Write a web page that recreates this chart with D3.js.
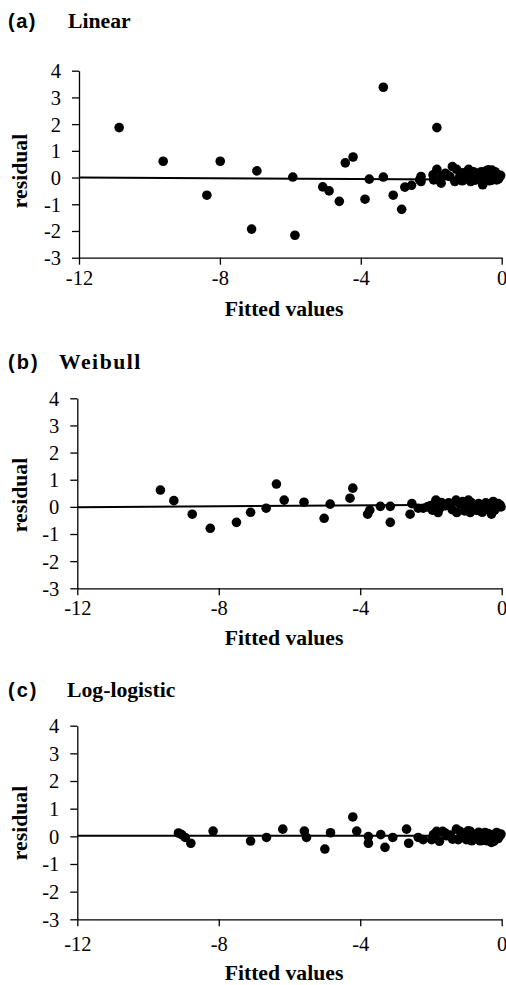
<!DOCTYPE html>
<html>
<head>
<meta charset="utf-8">
<script src="https://cdn.jsdelivr.net/npm/d3@7"></script>
<style>
  body { margin: 0; background: #fff; }
  svg { display: block; }
</style>
</head>
<body>
<div id="chart"></div>
<script>
// Data
var xTicks = [-12, -8, -4, 0]
var yTicks = [-3, -2, -1, 0, 1, 2, 3, 4]

var linearX = [-10.86, -9.61, -8.37, -7.99, -7.10, -6.95, -5.93, -5.87, -5.08, -4.90, -4.61, -4.44, -4.22, -3.88, -3.76, -3.36, -3.36, -3.08, -2.84, -2.75, -2.56, -2.33, -2.29, -2.29, -1.95, -1.93, -1.84, -1.84, -1.72, -1.60, -1.40, -1.28, -1.33, -1.19, -0.94, -0.89, -0.88, -0.71, -0.54, -0.47, -0.38, -0.31, -0.26, -0.19, -0.12, -0.05, -0.62, -1.05, -1.47, -0.42, -0.14,
  -1.10, -1.00, -0.80, -0.75, -0.66, -0.58, -0.50, -0.44, -0.35, -0.28, -0.22, -0.16, -0.09, -0.03, -1.55, -1.70, -1.12]
var linearY = [1.87, 0.61, -0.66, 0.61, -1.93, 0.25, 0.02, -2.16, -0.35, -0.50, -0.89, 0.55, 0.77, -0.81, -0.06, 3.38, 0.02, -0.66, -1.19, -0.36, -0.29, -0.09, 0.04, -0.15, 0.10, -0.09, 1.87, 0.31, -0.21, 0.16, 0.41, 0.31, -0.15, 0.04, 0.31, 0.10, -0.15, 0.04, -0.27, 0.16, 0.29, 0.10, -0.09, 0.22, 0.10, 0.04, 0.16, 0.04, 0.04, -0.09, -0.09,
  0.18, -0.05, 0.22, -0.10, 0.05, 0.22, -0.02, 0.25, -0.12, 0.28, -0.02, 0.15, -0.05, 0.08, 0.10, 0.05, -0.12]

var weibullX = [-9.65, -9.27, -8.75, -8.24, -7.50, -7.10, -6.66, -6.37, -6.15, -5.59, -5.02, -4.85, -4.29, -4.21, -3.79, -3.73, -3.43, -3.15, -3.15, -2.59, -2.54, -2.36, -2.22, -2.03, -1.96, -1.86, -1.80, -1.70, -1.60, -1.29, -1.27, -1.18, -0.94, -0.89, -0.80, -0.61, -0.52, -0.38, -0.29, -0.24, -0.14, -0.05, -1.03, -0.70,
  -2.10, -1.50, -1.40, -1.10, -1.05, -0.85, -0.72, -0.65, -0.55, -0.45, -0.35, -0.20, -0.10, -0.02, -1.90, -1.75]
var weibullY = [0.62, 0.23, -0.27, -0.79, -0.57, -0.20, -0.05, 0.84, 0.25, 0.17, -0.42, 0.10, 0.32, 0.69, -0.27, -0.12, 0.02, 0.02, -0.57, -0.27, 0.12, -0.05, -0.05, 0.04, -0.12, 0.25, -0.21, 0.16, 0.04, 0.25, -0.21, 0.10, 0.25, -0.21, 0.04, -0.15, 0.04, -0.09, -0.27, 0.20, -0.02, 0.07, -0.02, -0.02,
  0.00, 0.15, -0.10, 0.20, -0.15, 0.15, -0.12, 0.12, -0.20, 0.15, 0.10, -0.12, 0.12, 0.00, 0.12, -0.05]

var logLogX = [-9.14, -9.05, -8.95, -8.79, -8.16, -7.10, -6.65, -6.19, -5.58, -5.52, -5.00, -4.84, -4.21, -4.10, -3.77, -3.77, -3.42, -3.30, -3.08, -2.69, -2.63, -2.36, -2.22, -1.98, -1.93, -1.84, -1.76, -1.67, -1.56, -1.39, -1.28, -1.18, -1.23, -0.89, -0.85, -0.75, -0.61, -0.47, -0.42, -0.29, -0.14, -0.05, -1.03, -0.52,
  -1.90, -1.60, -1.45, -1.10, -1.00, -0.95, -0.70, -0.65, -0.55, -0.38, -0.33, -0.20, -0.22, -0.10, -0.02]
var logLogY = [0.12, 0.06, -0.04, -0.25, 0.19, -0.17, -0.04, 0.26, 0.19, -0.04, -0.46, 0.13, 0.70, 0.19, -0.01, -0.25, 0.06, -0.40, -0.04, 0.26, -0.25, -0.04, -0.12, -0.12, 0.06, 0.18, -0.18, 0.18, 0.02, -0.10, 0.26, 0.18, -0.12, 0.18, -0.16, 0.06, -0.16, 0.14, -0.16, -0.22, 0.14, 0.02, 0.02, -0.01,
  -0.05, 0.12, 0.05, 0.10, -0.12, 0.20, -0.10, 0.15, -0.15, 0.10, -0.05, 0.08, -0.18, -0.08, 0.08]

// fitted trend line: value at x = -12 and at x = 0
var linearFit = [0.0, -0.08]
var weibullFit = [-0.01, 0.09]
var logLogFit = [0.02, 0.02]

var panels = [
  { tag: '(a)', name: 'Linear', xs: linearX, ys: linearY, fit: linearFit,
    top: 70.7, bottom: 257.7, left: 79, titleY: 28, nameX: 68, nameSpacing: 0, tagSpacing: 1.5,
    tickY: 27.5, labelY: 58, resY: 171 },
  { tag: '(b)', name: 'Weibull', xs: weibullX, ys: weibullY, fit: weibullFit,
    top: 398.3, bottom: 588.3, left: 77.3, titleY: 369, nameX: 59, nameSpacing: 1.5, tagSpacing: 2,
    tickY: 27, labelY: 57, resY: 495 },
  { tag: '(c)', name: 'Log-logistic', xs: logLogX, ys: logLogY, fit: logLogFit,
    top: 725.7, bottom: 919.3, left: 77.3, titleY: 697, nameX: 67, nameSpacing: 0, tagSpacing: 2,
    tickY: 32, labelY: 61, resY: 823 }
]

var width = 506
var height = 985
var right = 501.7
var serif = '"Liberation Serif", "Times New Roman", Times, serif'
var sans = '"Liberation Sans", Arial, Helvetica, sans-serif'

var svg = d3.select('#chart').append('svg')
  .attr('width', width)
  .attr('height', height)

panels.forEach(function (p) {
  var x = d3.scaleLinear().domain([-12, 0]).range([p.left, right])
  var y = d3.scaleLinear().domain([-3, 4]).range([p.bottom, p.top])

  var g = svg.append('g').attr('class', 'panel')

  // Titles
  g.append('text')
    .attr('x', 8)
    .attr('y', p.titleY)
    .attr('font-family', sans)
    .attr('font-weight', 'bold')
    .attr('font-size', 20)
    .attr('letter-spacing', p.tagSpacing)
    .text(p.tag)
  g.append('text')
    .attr('x', p.nameX)
    .attr('y', p.titleY)
    .attr('font-family', serif)
    .attr('font-weight', 'bold')
    .attr('font-size', 21.7)
    .attr('letter-spacing', p.nameSpacing)
    .text(p.name)

  // Axes
  var yAxis = d3.axisLeft(y)
    .tickValues(yTicks)
    .tickSize(7)
    .tickSizeOuter(0)
    .tickPadding(11)
    .tickFormat(function (d) { return String(d) })
  var xAxis = d3.axisBottom(x)
    .tickValues(xTicks)
    .tickSize(7)
    .tickSizeOuter(0)
    .tickPadding(12)
    .tickFormat(function (d) { return String(d) })

  var gy = g.append('g')
    .attr('transform', 'translate(' + p.left + ',0)')
    .call(yAxis)
  var gx = g.append('g')
    .attr('transform', 'translate(0,' + p.bottom + ')')
    .call(xAxis)

  ;[gx, gy].forEach(function (a) {
    a.attr('font-family', serif).attr('font-size', 20.5)
    a.selectAll('path, line').attr('stroke', '#000').attr('stroke-width', 1.3)
    a.selectAll('text').attr('fill', '#000')
  })
  gx.selectAll('text').attr('dy', null).attr('y', p.tickY)
  gy.selectAll('text').attr('dy', '0.34em')

  // Axis titles
  g.append('text')
    .attr('x', 284)
    .attr('y', p.bottom + p.labelY)
    .attr('text-anchor', 'middle')
    .attr('font-family', serif)
    .attr('font-weight', 'bold')
    .attr('font-size', 21.7)
    .text('Fitted values')
  g.append('text')
    .attr('transform', 'translate(27,' + p.resY + ') rotate(-90)')
    .attr('text-anchor', 'middle')
    .attr('font-family', serif)
    .attr('font-weight', 'bold')
    .attr('font-size', 21.7)
    .text('residual')

  // Trend line
  g.append('line')
    .attr('x1', x(-12))
    .attr('y1', y(p.fit[0]))
    .attr('x2', x(0))
    .attr('y2', y(p.fit[1]))
    .attr('stroke', '#000')
    .attr('stroke-width', 2)

  // Points
  g.selectAll('.dot')
    .data(p.xs.map(function (v, i) { return [v, p.ys[i]] }))
    .enter().append('circle')
    .attr('class', 'dot')
    .attr('cx', function (d) { return x(d[0]) })
    .attr('cy', function (d) { return y(d[1]) })
    .attr('r', 4.8)
    .attr('fill', '#000')
})
</script>
</body>
</html>
